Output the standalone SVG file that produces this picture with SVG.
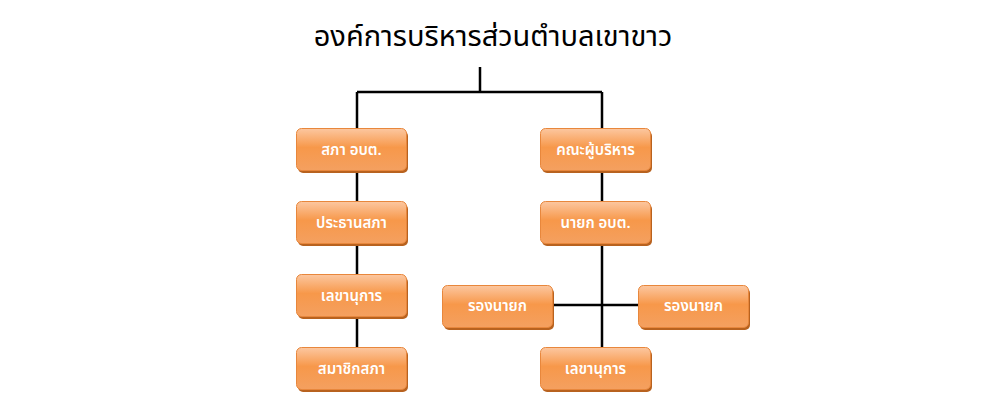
<svg xmlns="http://www.w3.org/2000/svg" width="990" height="410" viewBox="0 0 990 410">
<defs>
<linearGradient id="g" x1="0" y1="0" x2="0" y2="1">
<stop offset="0" stop-color="#fcc7a0"/>
<stop offset="0.45" stop-color="#f7984a"/>
<stop offset="1" stop-color="#f4a060"/>
</linearGradient>
<style>
.box{fill:url(#g);stroke:#e8873c;stroke-width:1}
.sh{fill:#b8621f}
.lbl{font-family:"Noto Sans Thai","Noto Sans","DejaVu Sans",sans-serif;font-size:15px;fill:#ffffff;text-anchor:middle;font-weight:600}
.ln{stroke:#000;stroke-width:2.5;fill:none}
.title{font-family:"Noto Sans Thai","Noto Sans",sans-serif;font-size:29px;fill:#000;text-anchor:middle}
</style>
</defs>
<rect width="990" height="410" fill="#fff"/>
<text class="title" x="493" y="46">องค์การบริหารส่วนตำบลเขาขาว</text>
<g id="connectors">
<path class="ln" d="M480,67 V92 M357,92 H602 M357,92 V348 M602,92 V348 M553,305 H639"/>
</g>
<g id="n1"><rect class="sh" x="298" y="131" width="110" height="42" rx="5"/><rect class="box" x="296.5" y="128.5" width="110" height="42" rx="5"/><text class="lbl" x="351.5" y="155">สภา อบต.</text></g>
<g id="n2"><rect class="sh" x="298" y="204" width="110" height="42" rx="5"/><rect class="box" x="296.5" y="201.5" width="110" height="42" rx="5"/><text class="lbl" x="351.5" y="228">ประธานสภา</text></g>
<g id="n3"><rect class="sh" x="298" y="277" width="110" height="42" rx="5"/><rect class="box" x="296.5" y="274.5" width="110" height="42" rx="5"/><text class="lbl" x="351.5" y="301">เลขานุการ</text></g>
<g id="n4"><rect class="sh" x="298" y="350" width="110" height="42" rx="5"/><rect class="box" x="296.5" y="347.5" width="110" height="42" rx="5"/><text class="lbl" x="351.5" y="374">สมาชิกสภา</text></g>
<g id="n5"><rect class="sh" x="542" y="131" width="110" height="42" rx="5"/><rect class="box" x="540.5" y="128.5" width="110" height="42" rx="5"/><text class="lbl" x="595.5" y="155">คณะผู้บริหาร</text></g>
<g id="n6"><rect class="sh" x="542" y="204" width="110" height="42" rx="5"/><rect class="box" x="540.5" y="201.5" width="110" height="42" rx="5"/><text class="lbl" x="595.5" y="228">นายก อบต.</text></g>
<g id="n7"><rect class="sh" x="444" y="288" width="110" height="42" rx="5"/><rect class="box" x="442.5" y="285.5" width="110" height="42" rx="5"/><text class="lbl" x="497.5" y="311">รองนายก</text></g>
<g id="n8"><rect class="sh" x="640" y="288" width="110" height="42" rx="5"/><rect class="box" x="638.5" y="285.5" width="110" height="42" rx="5"/><text class="lbl" x="693.5" y="311">รองนายก</text></g>
<g id="n9"><rect class="sh" x="542" y="350" width="110" height="42" rx="5"/><rect class="box" x="540.5" y="347.5" width="110" height="42" rx="5"/><text class="lbl" x="595.5" y="374">เลขานุการ</text></g>
</svg>
